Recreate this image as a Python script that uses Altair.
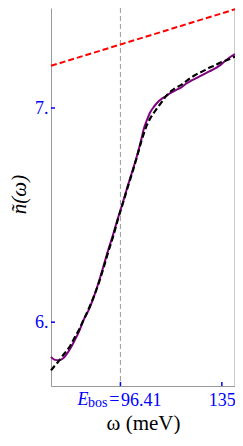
import altair as alt
import pandas as pd

# energy axis (meV)
omega = [70.0, 71.5, 73.0, 74.4, 75.9, 77.4, 78.8, 80.7, 82.5, 84.4,
         86.2, 88.1, 89.9, 91.7, 93.6, 95.4, 97.3, 99.1, 101.0, 102.8,
         104.3, 105.4, 106.5, 107.6, 109.1, 110.5, 112.0, 113.8, 115.7, 117.5,
         119.4, 121.2, 123.1, 124.9, 126.7, 128.6, 130.4, 132.3, 134.1, 136.0,
         137.8, 140.0]
# measured n~(omega) (purple)
n_data = [5.838, 5.824, 5.822, 5.829, 5.850, 5.878, 5.910, 5.957, 6.013, 6.059,
          6.115, 6.185, 6.259, 6.334, 6.408, 6.483, 6.558, 6.632, 6.707, 6.781,
          6.851, 6.907, 6.944, 6.977, 7.005, 7.026, 7.042, 7.056, 7.072, 7.084,
          7.095, 7.112, 7.126, 7.137, 7.149, 7.161, 7.172, 7.184, 7.198, 7.217,
          7.235, 7.252]
# fit (black dashed)
n_fit = [5.775, 5.798, 5.819, 5.843, 5.866, 5.891, 5.924, 5.966, 6.013, 6.064,
         6.117, 6.180, 6.250, 6.325, 6.399, 6.478, 6.553, 6.627, 6.702, 6.776,
         6.842, 6.884, 6.921, 6.949, 6.977, 7.002, 7.026, 7.056, 7.079, 7.095,
         7.107, 7.123, 7.140, 7.154, 7.165, 7.177, 7.189, 7.198, 7.210, 7.219,
         7.228, 7.240]
# red dashed reference line
omega_red = [70.0, 140.0]
n_red = [7.197, 7.461]

E_BOS = 96.41
x_ticks = [96.41, 135]
y_ticks = [6, 7]
x_domain = [70, 140]
y_domain = [5.702, 7.467]

BLUE = "#0000ff"
SERIF = "Liberation Serif"
W, H = 184, 378

X = alt.X("omega:Q", scale=alt.Scale(domain=x_domain, nice=False, zero=False),
          axis=alt.Axis(values=x_ticks, ticks=False, tickSize=0, grid=False,
                        labelExpr="datum.value > 100 ? '135' : '96.41'",
                        labelColor=BLUE, labelFont=SERIF, labelFontSize=18,
                        labelBaseline="alphabetic", labelPadding=19,
                        labelAlign={"condition": {"test": "datum.value < 100", "value": "left"}, "value": "center"},
                        labelOverlap=False, labelFlush=False,
                        title="ω (meV)", titleFont=SERIF, titleFontSize=21,
                        titleFontWeight="normal", titleColor="black",
                        titleBaseline="alphabetic", titleY=43, titleX=W / 2,
                        domainColor="#999999", domainWidth=1))
Y = alt.Y("n:Q", scale=alt.Scale(domain=y_domain, nice=False, zero=False),
          axis=alt.Axis(values=y_ticks, ticks=False, tickSize=0, grid=False,
                        labelExpr="datum.value + '.'",
                        labelColor=BLUE, labelFont=SERIF, labelFontSize=18,
                        labelPadding=3,
                        title="ñ(ω)", titleFont=SERIF, titleFontSize=21,
                        titleFontStyle="italic", titleFontWeight="normal",
                        titleColor="black", titleAngle=-90,
                        titleBaseline="middle", titleAlign="center",
                        titleX=-32, titleY=186,
                        domainColor="#999999", domainWidth=1))

df_data = pd.DataFrame({"omega": omega, "n": n_data})
df_fit = pd.DataFrame({"omega": omega, "n": n_fit})
df_red = pd.DataFrame({"omega": omega_red, "n": n_red})
df_ebos = pd.DataFrame({"omega": [E_BOS]})
df_right = pd.DataFrame({"omega": [x_domain[1]]})
df_xt = pd.DataFrame({"omega": x_ticks})
df_yt = pd.DataFrame({"n": y_ticks})

purple = alt.Chart(df_data).mark_line(color="#800080", strokeWidth=2, interpolate="monotone").encode(x=X, y=Y)
fit = alt.Chart(df_fit).mark_line(color="black", strokeWidth=2.2, strokeDash=[6, 3], interpolate="monotone").encode(x=X, y=Y)
red = alt.Chart(df_red).mark_line(color="#ff0000", strokeWidth=2, strokeDash=[6, 3]).encode(x=X, y=Y)
vline = alt.Chart(df_ebos).mark_rule(color="#999999", strokeWidth=1, strokeDash=[5, 3]).encode(x=X)
right = alt.Chart(df_right).mark_rule(color="#999999", strokeWidth=1).encode(x=X)
xt = alt.Chart(df_xt).mark_rule(color=BLUE, strokeWidth=1.5).encode(x=X, y=alt.value(H), y2=alt.value(H - 4))
yt = alt.Chart(df_yt).mark_rule(color=BLUE, strokeWidth=1.5).encode(y=Y, x=alt.value(0), x2=alt.value(4))

t_eq = alt.Chart(df_ebos).mark_text(text="=", font=SERIF, fontSize=18, color=BLUE,
                                    align="right", baseline="alphabetic", dx=-1).encode(x=X, y=alt.value(H + 19))
t_bos = alt.Chart(df_ebos).mark_text(text="bos", font=SERIF, fontSize=14, color=BLUE,
                                     align="right", baseline="alphabetic", dx=-13).encode(x=X, y=alt.value(H + 21))
t_E = alt.Chart(df_ebos).mark_text(text="E", font=SERIF, fontSize=18, fontStyle="italic", color=BLUE,
                                   align="right", baseline="alphabetic", dx=-32).encode(x=X, y=alt.value(H + 19))

chart = alt.layer(vline, right, xt, yt, red, purple, fit, t_eq, t_bos, t_E).properties(
    width=W, height=H,
    autosize=alt.AutoSizeParams(type="none"),
    padding={"left": 43, "top": 0, "right": 0, "bottom": 48},
).configure_view(stroke=None)

chart.save("out.html", embed_options={"renderer": "svg", "actions": False})
